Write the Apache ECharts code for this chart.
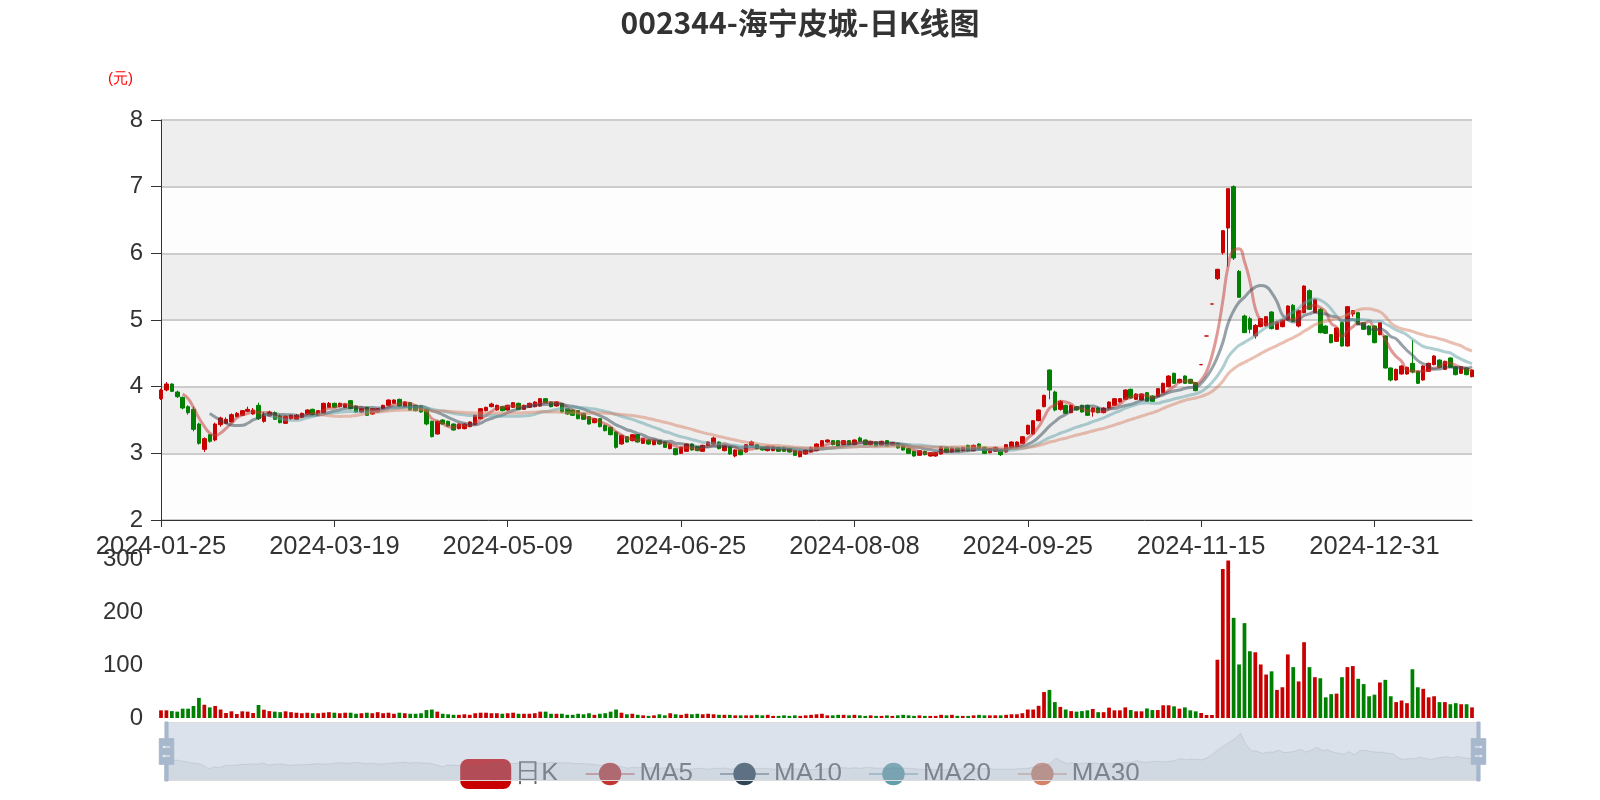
<!DOCTYPE html>
<html><head><meta charset="utf-8">
<script src="https://cdn.jsdelivr.net/npm/echarts@6/dist/echarts.min.js"></script>
<style>html,body{margin:0;padding:0;background:#fff}#c{width:1600px;height:800px}</style>
</head><body><div id="c"></div>
<script>
const dates = [
'2024-01-25','2024-01-26','2024-01-29','2024-01-30','2024-01-31',
'2024-02-01','2024-02-02','2024-02-05','2024-02-06','2024-02-07','2024-02-08','2024-02-19','2024-02-20','2024-02-21','2024-02-22','2024-02-23','2024-02-26','2024-02-27','2024-02-28','2024-02-29',
'2024-03-01','2024-03-04','2024-03-05','2024-03-06','2024-03-07','2024-03-08','2024-03-11','2024-03-12','2024-03-13','2024-03-14','2024-03-15','2024-03-18','2024-03-19','2024-03-20','2024-03-21','2024-03-22','2024-03-25','2024-03-26','2024-03-27','2024-03-28','2024-03-29',
'2024-04-01','2024-04-02','2024-04-03','2024-04-08','2024-04-09','2024-04-10','2024-04-11','2024-04-12','2024-04-15','2024-04-16','2024-04-17','2024-04-18','2024-04-19','2024-04-22','2024-04-23','2024-04-24','2024-04-25','2024-04-26','2024-04-29','2024-04-30',
'2024-05-06','2024-05-07','2024-05-08','2024-05-09','2024-05-10','2024-05-13','2024-05-14','2024-05-15','2024-05-16','2024-05-17','2024-05-20','2024-05-21','2024-05-22','2024-05-23','2024-05-24','2024-05-27','2024-05-28','2024-05-29','2024-05-30','2024-05-31',
'2024-06-03','2024-06-04','2024-06-05','2024-06-06','2024-06-07','2024-06-11','2024-06-12','2024-06-13','2024-06-14','2024-06-17','2024-06-18','2024-06-19','2024-06-20','2024-06-21','2024-06-24','2024-06-25','2024-06-26','2024-06-27','2024-06-28',
'2024-07-01','2024-07-02','2024-07-03','2024-07-04','2024-07-05','2024-07-08','2024-07-09','2024-07-10','2024-07-11','2024-07-12','2024-07-15','2024-07-16','2024-07-17','2024-07-18','2024-07-19','2024-07-22','2024-07-23','2024-07-24','2024-07-25','2024-07-26','2024-07-29','2024-07-30','2024-07-31',
'2024-08-01','2024-08-02','2024-08-05','2024-08-06','2024-08-07','2024-08-08','2024-08-09','2024-08-12','2024-08-13','2024-08-14','2024-08-15','2024-08-16','2024-08-19','2024-08-20','2024-08-21','2024-08-22','2024-08-23','2024-08-26','2024-08-27','2024-08-28','2024-08-29','2024-08-30',
'2024-09-02','2024-09-03','2024-09-04','2024-09-05','2024-09-06','2024-09-09','2024-09-10','2024-09-11','2024-09-12','2024-09-13','2024-09-18','2024-09-19','2024-09-20','2024-09-23','2024-09-24','2024-09-25','2024-09-26','2024-09-27','2024-09-30',
'2024-10-08','2024-10-09','2024-10-10','2024-10-11','2024-10-14','2024-10-15','2024-10-16','2024-10-17','2024-10-18','2024-10-21','2024-10-22','2024-10-23','2024-10-24','2024-10-25','2024-10-28','2024-10-29','2024-10-30','2024-10-31',
'2024-11-01','2024-11-04','2024-11-05','2024-11-06','2024-11-07','2024-11-08','2024-11-11','2024-11-12','2024-11-13','2024-11-14','2024-11-15','2024-11-18','2024-11-19','2024-11-20','2024-11-21','2024-11-22','2024-11-25','2024-11-26','2024-11-27','2024-11-28','2024-11-29',
'2024-12-02','2024-12-03','2024-12-04','2024-12-05','2024-12-06','2024-12-09','2024-12-10','2024-12-11','2024-12-12','2024-12-13','2024-12-16','2024-12-17','2024-12-18','2024-12-19','2024-12-20','2024-12-23','2024-12-24','2024-12-25','2024-12-26','2024-12-27','2024-12-30','2024-12-31',
'2025-01-02','2025-01-03','2025-01-06','2025-01-07','2025-01-08','2025-01-09','2025-01-10','2025-01-13','2025-01-14','2025-01-15','2025-01-16','2025-01-17','2025-01-20','2025-01-21','2025-01-22','2025-01-23','2025-01-24','2025-01-27'
];
const opens = [
3.82,3.95,4.04,3.92,3.84,3.70,3.66,3.44,3.06,3.28,3.20,3.43,3.45,3.47,3.55,3.57,3.63,3.59,3.72,3.48,
3.56,3.61,3.56,3.45,3.52,3.51,3.54,3.59,3.66,3.57,3.60,3.69,3.75,3.70,3.69,3.79,3.71,3.62,3.69,3.59,
3.62,3.67,3.72,3.75,3.81,3.70,3.76,3.72,3.71,3.66,3.48,3.29,3.50,3.48,3.44,3.37,3.37,3.40,3.43,3.52,
3.64,3.70,3.65,3.70,3.65,3.69,3.75,3.66,3.69,3.70,3.71,3.82,3.77,3.71,3.75,3.67,3.65,3.64,3.60,3.55,
3.46,3.52,3.42,3.39,3.32,3.14,3.25,3.19,3.28,3.15,3.20,3.13,3.19,3.17,3.07,3.07,3.00,3.03,3.14,3.10,
3.03,3.12,3.14,3.17,3.04,3.10,2.96,3.05,3.02,3.12,3.13,3.09,3.04,3.04,3.09,3.09,3.07,3.04,2.95,2.99,
3.02,3.04,3.10,3.17,3.19,3.19,3.13,3.19,3.13,3.23,3.20,3.13,3.17,3.12,3.19,3.12,3.15,3.12,3.07,3.03,
2.97,3.03,2.96,2.96,2.99,3.09,3.02,3.08,3.04,3.12,3.04,3.14,3.09,3.01,3.03,3.05,3.02,3.09,3.10,3.15,
3.29,3.29,3.49,3.70,4.25,3.92,3.66,3.72,3.61,3.70,3.72,3.72,3.62,3.68,3.61,3.68,3.72,3.77,3.81,3.96,
3.81,3.80,3.91,3.86,3.85,3.91,4.00,4.20,4.06,4.16,4.11,4.06,4.33,4.76,5.24,5.62,6.01,6.38,7.00,5.73,
5.06,5.02,4.76,4.90,4.91,5.12,4.86,4.90,5.00,5.22,4.91,5.11,5.44,5.11,5.16,4.91,4.78,4.68,4.96,4.61,
5.09,5.11,4.96,4.91,4.91,4.78,4.76,4.28,4.10,4.19,4.19,4.35,4.23,4.10,4.23,4.33,4.40,4.26,4.43,4.30,
4.20,4.28,4.15
];
const closes = [
3.95,4.04,3.93,3.85,3.68,3.61,3.36,3.15,3.22,3.18,3.44,3.53,3.51,3.58,3.60,3.64,3.66,3.65,3.52,3.59,
3.62,3.51,3.46,3.55,3.57,3.57,3.60,3.65,3.58,3.64,3.75,3.75,3.69,3.75,3.74,3.67,3.62,3.67,3.57,3.67,
3.67,3.72,3.80,3.80,3.71,3.77,3.65,3.64,3.62,3.44,3.25,3.48,3.44,3.41,3.35,3.44,3.44,3.47,3.57,3.67,
3.69,3.74,3.72,3.64,3.72,3.76,3.66,3.72,3.75,3.77,3.82,3.76,3.70,3.77,3.62,3.59,3.57,3.52,3.51,3.44,
3.52,3.40,3.34,3.28,3.09,3.27,3.17,3.28,3.17,3.22,3.14,3.19,3.14,3.09,3.14,2.98,3.09,3.14,3.05,3.04,
3.12,3.17,3.23,3.07,3.12,2.99,3.05,2.98,3.13,3.17,3.07,3.05,3.10,3.10,3.03,3.03,3.02,2.97,3.03,3.05,
3.09,3.14,3.19,3.20,3.13,3.11,3.19,3.13,3.20,3.18,3.13,3.18,3.11,3.18,3.11,3.16,3.08,3.05,3.00,2.96,
3.04,2.98,3.01,3.01,3.10,3.02,3.08,3.03,3.09,3.04,3.12,3.07,3.00,3.07,3.09,2.98,3.13,3.17,3.17,3.25,
3.42,3.49,3.65,3.87,3.95,3.65,3.78,3.60,3.72,3.65,3.62,3.57,3.68,3.61,3.68,3.77,3.82,3.82,3.95,3.83,
3.89,3.89,3.78,3.78,3.97,4.05,4.16,4.05,4.11,4.05,4.05,3.94,4.33,4.76,5.24,5.76,6.34,6.97,5.93,5.34,
4.81,4.86,4.92,5.02,5.05,4.87,4.97,5.00,5.21,4.98,5.14,5.51,5.16,5.31,4.81,4.80,4.66,4.88,4.61,5.20,
5.14,4.93,4.86,4.78,4.66,4.96,4.28,4.10,4.26,4.31,4.29,4.22,4.05,4.31,4.35,4.46,4.29,4.38,4.29,4.18,
4.30,4.18,4.25
];
const lows = [
3.80,3.93,3.92,3.83,3.66,3.58,3.33,3.13,3.02,3.16,3.18,3.40,3.44,3.46,3.54,3.56,3.62,3.58,3.50,3.46,
3.55,3.50,3.45,3.44,3.50,3.50,3.53,3.58,3.57,3.56,3.59,3.68,3.68,3.69,3.68,3.66,3.61,3.61,3.56,3.58,
3.61,3.66,3.71,3.74,3.70,3.69,3.64,3.63,3.61,3.42,3.24,3.28,3.43,3.40,3.34,3.36,3.36,3.39,3.42,3.51,
3.63,3.69,3.64,3.63,3.64,3.68,3.65,3.65,3.68,3.69,3.70,3.75,3.69,3.70,3.61,3.58,3.56,3.51,3.50,3.43,
3.45,3.39,3.33,3.27,3.07,3.13,3.16,3.18,3.16,3.14,3.13,3.12,3.13,3.08,3.06,2.97,2.99,3.02,3.04,3.03,
3.02,3.11,3.13,3.06,3.03,2.98,2.94,2.97,3.01,3.11,3.06,3.04,3.03,3.03,3.02,3.02,3.01,2.96,2.94,2.98,
3.01,3.03,3.09,3.16,3.12,3.10,3.12,3.12,3.12,3.17,3.12,3.12,3.10,3.11,3.10,3.11,3.07,3.04,2.99,2.95,
2.96,2.97,2.95,2.95,2.98,3.01,3.01,3.02,3.03,3.03,3.03,3.06,2.99,3.00,3.02,2.96,3.01,3.08,3.09,3.14,
3.28,3.28,3.48,3.69,3.81,3.63,3.64,3.59,3.60,3.64,3.61,3.56,3.55,3.60,3.60,3.67,3.71,3.76,3.80,3.82,
3.80,3.79,3.77,3.77,3.84,3.90,3.99,4.04,4.05,4.04,4.04,3.93,4.33,4.76,5.24,5.60,5.98,5.80,5.90,5.34,
4.81,4.80,4.72,4.89,4.90,4.86,4.85,4.89,4.99,4.97,4.89,5.10,5.15,5.10,4.80,4.79,4.65,4.67,4.60,4.60,
5.05,4.92,4.85,4.77,4.65,4.77,4.27,4.08,4.09,4.18,4.18,4.20,4.04,4.09,4.22,4.32,4.28,4.25,4.28,4.17,
4.19,4.17,4.14
];
const highs = [
3.97,4.07,4.05,3.94,3.85,3.72,3.70,3.46,3.24,3.29,3.46,3.55,3.54,3.60,3.62,3.65,3.70,3.68,3.76,3.62,
3.64,3.63,3.58,3.57,3.58,3.59,3.61,3.66,3.67,3.65,3.76,3.77,3.76,3.76,3.75,3.80,3.72,3.68,3.70,3.68,
3.68,3.73,3.81,3.81,3.82,3.78,3.77,3.73,3.72,3.67,3.49,3.49,3.51,3.49,3.45,3.45,3.45,3.48,3.58,3.68,
3.70,3.76,3.73,3.71,3.73,3.77,3.76,3.73,3.76,3.78,3.83,3.83,3.78,3.78,3.76,3.68,3.66,3.65,3.61,3.56,
3.53,3.53,3.43,3.40,3.33,3.28,3.26,3.29,3.29,3.23,3.21,3.20,3.20,3.18,3.15,3.08,3.10,3.15,3.15,3.11,
3.13,3.18,3.25,3.18,3.13,3.11,3.06,3.06,3.14,3.19,3.14,3.10,3.11,3.11,3.10,3.10,3.08,3.05,3.04,3.06,
3.10,3.15,3.20,3.21,3.20,3.20,3.20,3.20,3.21,3.25,3.21,3.19,3.18,3.19,3.20,3.17,3.16,3.13,3.08,3.04,
3.05,3.04,3.02,3.02,3.11,3.10,3.09,3.09,3.10,3.13,3.13,3.15,3.10,3.08,3.10,3.06,3.14,3.18,3.18,3.26,
3.43,3.50,3.66,3.88,4.26,3.94,3.80,3.73,3.73,3.71,3.73,3.73,3.69,3.70,3.69,3.78,3.83,3.83,3.96,3.97,
3.90,3.90,3.92,3.87,3.98,4.06,4.17,4.21,4.12,4.17,4.12,4.07,4.33,4.76,5.24,5.77,6.34,6.97,7.02,5.75,
5.08,5.05,4.94,5.03,5.06,5.13,4.98,5.01,5.22,5.24,5.16,5.52,5.46,5.32,5.18,4.92,4.79,4.89,4.97,5.21,
5.15,5.12,4.97,4.92,4.92,4.97,4.77,4.29,4.27,4.32,4.30,4.70,4.24,4.32,4.36,4.47,4.41,4.39,4.44,4.31,
4.31,4.29,4.26
];
const volumes = [
14.5,14.5,13,12,17.6,17.6,22.6,38,25,20,22.6,16,9.4,12.6,7.5,12.6,12,9.4,24.5,15.7,
13,12,11,12.6,11,10,9,10,9,9,10,11,10,9,10,10,8,9,10,9,
11,9,10,8,10,9,8,8,9,15,16,12,8,7,6,6,7,6,9,10,
10,9,9,8,9,10,8,8,8,9,12,12,8,8,8,6,6,8,7,9,
6,8,9,12,16,10,7,8,6,5,4,5,7,5,9,7,6,8,7,8,
7,8,7,6,6,6,5,5,5,5,6,5,6,4,4,5,4,5,4,5,
6,7,8,5,5,6,6,5,6,5,4,5,4,4,5,4,5,6,5,4,
5,4,4,4,6,5,6,4,4,4,5,6,5,5,5,5,6,7,7,9,
16,16,23,49,53,30,21,16,13,12,13,14.5,17,11,11,19.5,14.5,14.5,20,15,
12.6,12.6,18,15,15,24,24,22,17.6,20,14.5,12.6,9.4,5.7,5.7,110,281,297,189,101,
179,126,124,101,82,88,53,58,120,96,69,143,96,77,75,39,45,46,77,96,
98,74,64,41,44,67,72,41,30,33,28,92,58,55,39,41,30,30,26,28,
26,26,20
];
const legendNames = ['日K','MA5','MA10','MA20','MA30'];
const maDays = [5,10,20,30];
const maColors = ['#c23531','#2f4554','#61a0a8','#d48265'];
const upColor = '#c80000', downColor = '#008000';

function calcMA(n){
  const out=[];
  for(let i=0;i<closes.length;i++){
    if(i<n-1){out.push('-');continue;}
    let s=0; for(let j=0;j<n;j++) s+=closes[i-j];
    out.push(+(s/n).toFixed(3));
  }
  return out;
}
const kData = dates.map((d,i)=>[opens[i],closes[i],lows[i],highs[i]]);
const chart = echarts.init(document.getElementById('c'));
const yFont = {fontSize:24,color:'#333',margin:18};
const shadowStyle = {lineStyle:{color:'#2f4554',width:0.5,opacity:0.3},areaStyle:{color:'rgba(47,69,84,0.3)',opacity:0.3}};
const option = {
  animation:false,
  backgroundColor:'#fff',
  title:{text:'002344-海宁皮城-日K线图',left:'center',top:3,
    textStyle:{fontSize:30,fontWeight:'bold',color:'#333',fontFamily:'Noto Sans CJK SC'}},
  legend:{data:legendNames,bottom:6,left:'center',itemWidth:49,itemHeight:28,itemGap:26,z:1,
    textStyle:{fontSize:26,color:'#666'}},
  grid:[{left:161,right:128,top:120,height:400},{left:161,right:128,top:559,height:159}],
  xAxis:[
    {type:'category',data:dates,boundaryGap:false,gridIndex:0,
     axisLine:{lineStyle:{color:'#333'}},axisTick:{interval:31,length:7},
     axisLabel:{interval:31,fontSize:25.5,color:'#333',margin:14},splitLine:{show:false}},
    {type:'category',data:dates,boundaryGap:false,gridIndex:1,
     axisLine:{show:false},axisTick:{show:false},axisLabel:{show:false},splitLine:{show:false}}
  ],
  yAxis:[
    {type:'value',gridIndex:0,min:2,max:8,interval:1,name:'(元)',nameLocation:'end',nameGap:34,
     nameTextStyle:{color:'#f00',fontSize:15,align:'right',padding:[0,28,0,0]},
     axisLine:{show:true,lineStyle:{color:'#333'}},axisTick:{show:true,length:10},axisLabel:yFont,
     splitLine:{show:true,lineStyle:{color:'#ccc',width:2}},
     splitArea:{show:true,areaStyle:{color:['rgba(250,250,250,0.3)','rgba(200,200,200,0.3)']}}},
    {type:'value',gridIndex:1,min:0,max:300,interval:100,
     axisLine:{show:false},axisTick:{show:false},axisLabel:yFont,splitLine:{show:false}}
  ],
  dataZoom:[{type:'slider',xAxisIndex:[0,1],start:0,end:100,left:163,right:123,top:722,height:59,z:6,
    backgroundColor:'rgba(47,69,84,0)',fillerColor:'rgba(167,183,204,0.4)',borderColor:'#ddd',
    dataBackground:shadowStyle,selectedDataBackground:shadowStyle,
    handleIcon:'path://M8.2,13.6V3.9H6.3v9.7H3.1v14.9h3.3v9.7h1.8v-9.7h3.3V13.6H8.2z M9.7,24.4H4.8v-1.4h4.9V24.4z M9.7,19.1H4.8v-1.4h4.9V19.1z',
    handleSize:'100%',handleStyle:{color:'#a7b7cc',borderColor:'#a7b7cc'},
    moveHandleSize:0,brushSelect:false,showDetail:false}],
  series:[
    {name:'日K',type:'candlestick',data:kData,xAxisIndex:0,yAxisIndex:0,barWidth:4,
     itemStyle:{color:upColor,color0:downColor,borderColor:upColor,borderColor0:downColor}},
    ...maDays.map((n,k)=>({name:'MA'+n,type:'line',data:calcMA(n),smooth:true,showSymbol:false,symbol:'circle',
      itemStyle:{color:maColors[k]},lineStyle:{width:3,opacity:0.5,color:maColors[k]}})),
    {name:'Volume',type:'bar',xAxisIndex:1,yAxisIndex:1,
     data:volumes.map((v,i)=>({value:v,itemStyle:{color:closes[i]>=opens[i]?upColor:downColor}}))}
  ]
};
chart.setOption(option);
</script></body></html>
